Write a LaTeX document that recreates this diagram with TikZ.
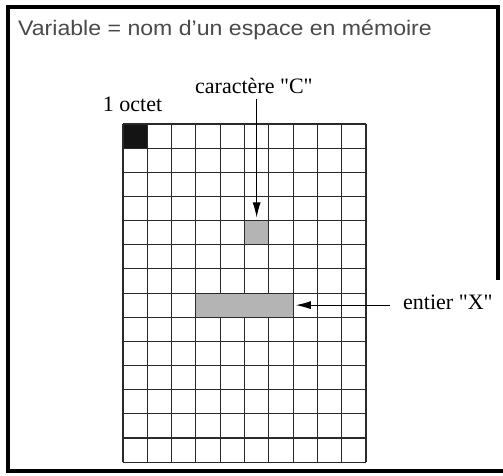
\documentclass[tikz,border=0pt]{standalone}
\usepackage{graphicx}
\usepackage{fontspec}
\setmainfont{Liberation Serif}
\newfontfamily\titlefont{Liberation Sans}
\font\labfont="Liberation Serif" at 22pt
\usetikzlibrary{arrows.meta}
\definecolor{titlegray}{HTML}{4A4A4A}
\definecolor{cellgray}{HTML}{B4B4B4}
\definecolor{linegray}{HTML}{2A2A2A}
\begin{document}
\begin{tikzpicture}[x=1pt,y=-1pt,
  gridline/.style={line width=1.1pt, draw=linegray},
  framebar/.style={fill=black, draw=none},
  cellfill/.style={draw=none, inner sep=0pt, minimum height=23pt},
  lbl/.style={anchor=base west, inner sep=0pt, font=\labfont},
  ptr/.style={line width=1pt, -{Latex[length=15pt,width=8pt]}}]
\useasboundingbox[fill=white] (0,0) rectangle (503,475);
% frame
\fill[framebar] (6,5) rectangle (500,9);
\fill[framebar] (6,5) rectangle (10,473);
\fill[framebar] (496,5) rectangle (500,280);
\fill[framebar] (6,469) rectangle (503,473);
% title
\node[anchor=base west, inner sep=0pt, text=titlegray] (title) at (18,35)
  {\scalebox{1.1}[1]{\titlefont\fontsize{21}{24}\selectfont Variable = nom d’un espace en mémoire}};
% grid
\foreach \i in {0,...,10} \draw[gridline] ({123+\i*24.3},124) -- ({123+\i*24.3},462.1);
\foreach \j in {0,...,14} \draw[gridline] (123,{124+\j*24.15}) -- (366,{124+\j*24.15});
% special cells
\node[cellfill, fill=black!92, minimum width=23.2pt] (octet) at (135.15,136.075) {};
\node[cellfill, fill=cellgray, minimum width=23.2pt] (cellC) at (256.65,232.675) {};
\node[cellfill, fill=cellgray, minimum width=96.1pt] (cellX) at (244.5,305.125) {};
% labels
\node[lbl] (labO) at (102.7,111.7) {1 octet};
\node[lbl] (labC) at (195,93) {caractère "C"};
\node[lbl] (labX) at (403,309) {entier "X"};
% pointers
\coordinate (cTop) at (256.65,99);
\coordinate (xStart) at (390,305.125);
\draw[ptr, shorten >=3.5pt] (cTop) -- (cellC.north);
\draw[ptr, shorten >=3pt] (xStart) -- (cellX.east);
\end{tikzpicture}
\end{document}
